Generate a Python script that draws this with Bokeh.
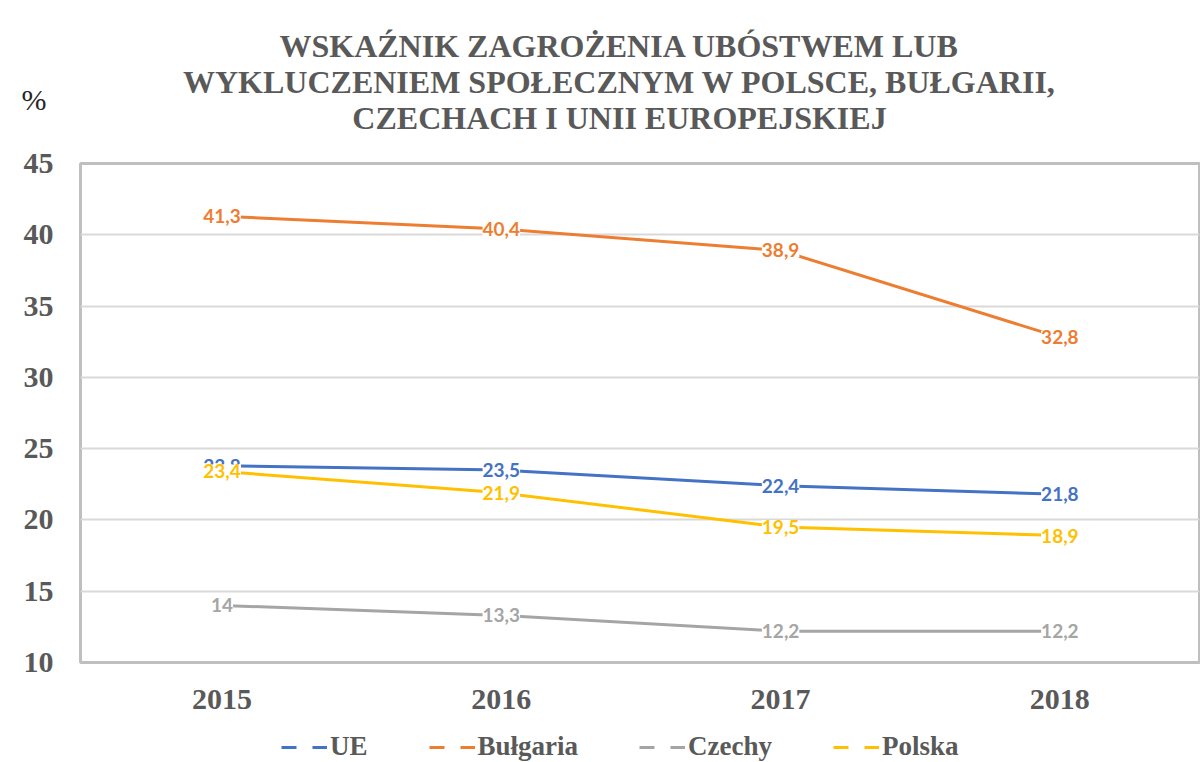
from bokeh.plotting import figure
from bokeh.layouts import column
from bokeh.models import (ColumnDataSource, LabelSet, Legend, LegendItem,
                          FixedTicker, Range1d)
from bokeh.embed import file_html
from bokeh.resources import INLINE
from bokeh.core.properties import value

years = [2015, 2016, 2017, 2018]
series_names = ["UE", "Bułgaria", "Czechy", "Polska"]
ue = [23.8, 23.5, 22.4, 21.8]
bulgaria = [41.3, 40.4, 38.9, 32.8]
czechy = [14.0, 13.3, 12.2, 12.2]
polska = [23.4, 21.9, 19.5, 18.9]
colors = ["#4472C4", "#ED7D31", "#A5A5A5", "#FFC000"]
title_lines = [
    "WSKAŹNIK ZAGROŻENIA UBÓSTWEM LUB",
    "WYKLUCZENIEM SPOŁECZNYM W POLSCE, BUŁGARII,",
    "CZECHACH I UNII EUROPEJSKIEJ",
]
y_unit = "%"
y_ticks = [10, 15, 20, 25, 30, 35, 40, 45]

SERIF = "Liberation Serif"
GRAY = "#595959"


def bare(fig):
    fig.grid.visible = False
    fig.outline_line_color = None
    fig.background_fill_color = "white"
    fig.border_fill_color = "white"


# ---- header: title lines, unit shown as the header's single left tick label ----
head = figure(width=1200, height=141, output_backend="svg", toolbar_location=None,
              x_range=Range1d(80, 1199), y_range=Range1d(141, 0),
              x_axis_location=None, y_axis_location="left", min_border=0)
bare(head)
head.text(x=[619, 619, 619], y=[45, 81, 117], text=title_lines,
          text_font=value(SERIF), text_font_size="32px", text_font_style="bold",
          text_color=GRAY, text_align="center", text_baseline="middle")
hy = head.yaxis[0]
hy.ticker = FixedTicker(ticks=[99])
hy.major_label_overrides = {99: y_unit}
hy.axis_line_color = None
hy.major_tick_line_color = None
hy.minor_tick_line_color = None
hy.major_label_standoff = 28
hy.major_label_text_font = SERIF
hy.major_label_text_font_size = "30px"
hy.major_label_text_color = "#262626"

# ---- main chart ----
p = figure(width=1200, height=581, output_backend="svg", toolbar_location=None,
           x_range=Range1d(2014.493, 2018.5), y_range=Range1d(10, 45),
           min_border_left=80, min_border_right=1, min_border_top=22,
           min_border_bottom=60)
p.background_fill_color = "white"
p.border_fill_color = "white"
p.outline_line_color = "#BFBFBF"
p.outline_line_width = 3

for ax in (p.xaxis[0], p.yaxis[0]):
    ax.axis_line_color = None
    ax.major_tick_line_color = None
    ax.minor_tick_line_color = None
    ax.major_label_text_font = SERIF
    ax.major_label_text_font_size = "30px"
    ax.major_label_text_font_style = "bold"
    ax.major_label_text_color = GRAY
p.xaxis.ticker = FixedTicker(ticks=years)
p.xaxis.major_label_standoff = 21
p.yaxis.ticker = FixedTicker(ticks=y_ticks)
p.yaxis.major_label_standoff = 21
p.xgrid.grid_line_color = None
p.ygrid.grid_line_color = "#D9D9D9"
p.ygrid.grid_line_width = 2

# ---- legend strip ----
foot = figure(width=1200, height=40, output_backend="svg", toolbar_location=None,
              x_range=Range1d(0, 1), y_range=Range1d(0, 1),
              x_axis_location=None, y_axis_location=None, min_border=0)
bare(foot)

items = []
for name, vals, col in zip(series_names, [ue, bulgaria, czechy, polska], colors):
    src = ColumnDataSource(dict(x=years, y=vals,
                                lab=[f"{v:g}".replace(".", ",") for v in vals]))
    p.line("x", "y", source=src, line_color=col, line_width=3)
    p.add_layout(LabelSet(x="x", y="y", text="lab", source=src,
                          text_align="center", text_baseline="middle",
                          text_font=value("Lato"), text_font_style="bold",
                          text_font_size="19px", text_color=col,
                          background_fill_color="white"))
    # legend key: same series, styled dashed, lying outside the strip's ranges
    key = foot.line("x", "y", source=src, line_color=col, line_width=3,
                    line_dash="15 16")
    items.append(LegendItem(label=name, renderers=[key]))

legend = Legend(items=items, orientation="horizontal", location=(201, 0),
                label_text_font=SERIF, label_text_font_size="27px",
                label_text_font_style="bold", label_text_color=GRAY,
                glyph_width=46, glyph_height=20, label_standoff=3, spacing=61,
                border_line_color=None, background_fill_alpha=0,
                padding=2, margin=0)
foot.add_layout(legend, "center")

layout = column(head, p, foot, spacing=0)
open("out.html", "w").write(file_html(layout, INLINE))
